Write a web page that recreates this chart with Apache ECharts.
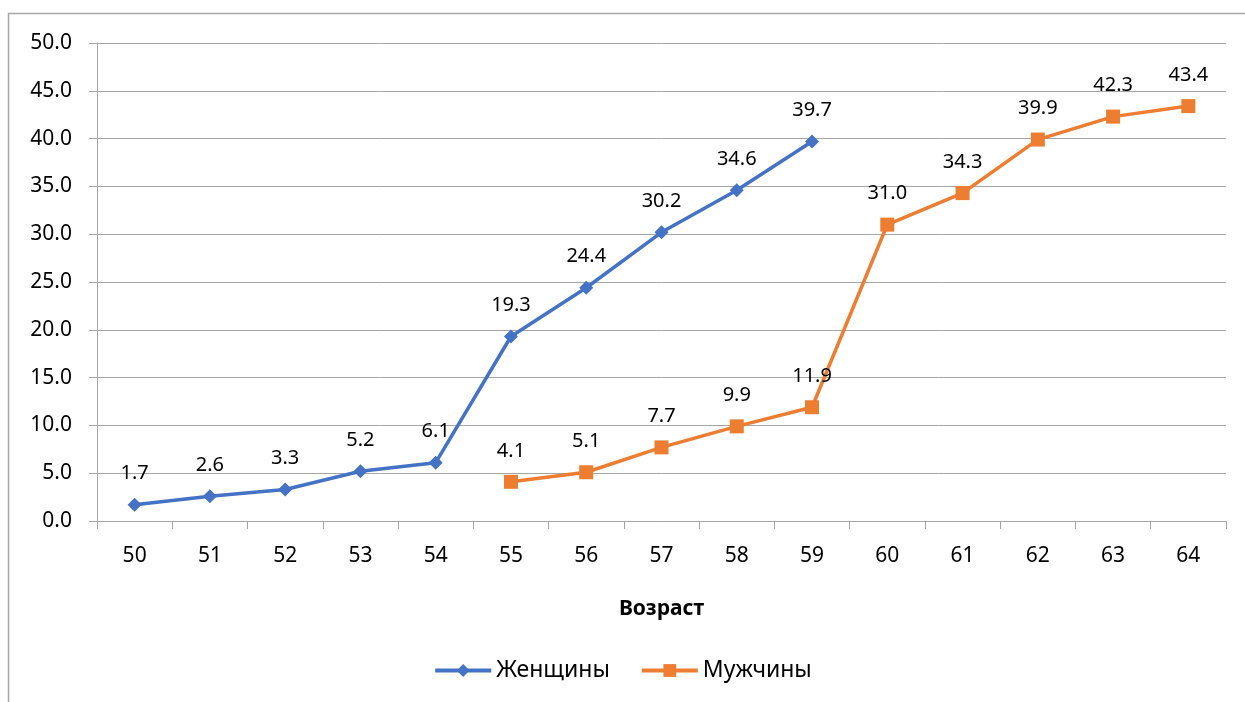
<!DOCTYPE html>
<html>
<head>
<meta charset="utf-8">
<script src="https://cdn.jsdelivr.net/npm/echarts@6/dist/echarts.min.js"></script>
<style>
  html, body { margin: 0; padding: 0; background: #fff; }
  #chart { width: 1245px; height: 702px; }
</style>
</head>
<body>
<div id="chart"></div>
<script>
const ages = ['50', '51', '52', '53', '54', '55', '56', '57', '58', '59', '60', '61', '62', '63', '64']
const women = [1.7, 2.6, 3.3, 5.2, 6.1, 19.3, 24.4, 30.2, 34.6, 39.7, null, null, null, null, null]
const men = [null, null, null, null, null, 4.1, 5.1, 7.7, 9.9, 11.9, 31.0, 34.3, 39.9, 42.3, 43.4]

const font = 'Noto Sans'
const gridColor = '#a6a6a6'

const chart = echarts.init(document.getElementById('chart'))

const labelOpt = {
  show: true,
  position: 'top',
  distance: 14,
  color: '#000',
  fontFamily: font,
  fontSize: 20,
  formatter: p => p.value == null ? '' : Number(p.value).toFixed(1)
}

chart.setOption({
  animation: false,
  textStyle: { fontFamily: font },
  graphic: [{
    type: 'rect',
    shape: { x: 8.5, y: 13.5, width: 1400, height: 900 },
    style: { fill: 'none', stroke: gridColor, lineWidth: 1.5 },
    silent: true
  }],
  grid: {
    left: 97,
    right: 19,
    top: 43,
    bottom: 181
  },
  legend: {
    bottom: 15,
    left: 'center',
    itemWidth: 56,
    itemHeight: 16,
    itemGap: 30,
    lineStyle: { width: 4 },
    textStyle: { fontFamily: font, fontSize: 23, color: '#000' },
    data: ['Женщины', 'Мужчины']
  },
  xAxis: {
    type: 'category',
    data: ages,
    boundaryGap: true,
    name: 'Возраст',
    nameLocation: 'middle',
    nameGap: 78,
    nameTextStyle: { fontFamily: font, fontSize: 21, fontWeight: 'bold', color: '#000' },
    axisLine: { lineStyle: { color: gridColor, width: 1 } },
    axisTick: { show: true, interval: 0, length: 8, lineStyle: { color: gridColor } },
    axisLabel: { margin: 25, fontFamily: font, fontSize: 21, color: '#000' }
  },
  yAxis: {
    type: 'value',
    min: 0,
    max: 50,
    interval: 5,
    axisLine: { show: true, lineStyle: { color: gridColor, width: 1 } },
    axisTick: { show: true, length: 8, lineStyle: { color: gridColor } },
    axisLabel: {
      margin: 25,
      fontFamily: font,
      fontSize: 21,
      color: '#000',
      formatter: v => v.toFixed(1)
    },
    splitLine: { lineStyle: { color: gridColor, width: 1 } }
  },
  series: [
    {
      name: 'Женщины',
      type: 'line',
      data: women,
      symbol: 'diamond',
      symbolSize: 14,
      connectNulls: false,
      itemStyle: { color: '#4472c4' },
      lineStyle: { color: '#4472c4', width: 3.5 },
      label: labelOpt
    },
    {
      name: 'Мужчины',
      type: 'line',
      data: men,
      symbol: 'rect',
      symbolSize: 14,
      connectNulls: false,
      itemStyle: { color: '#ed7d31' },
      lineStyle: { color: '#ed7d31', width: 3.5 },
      label: labelOpt
    }
  ]
})
</script>
</body>
</html>
